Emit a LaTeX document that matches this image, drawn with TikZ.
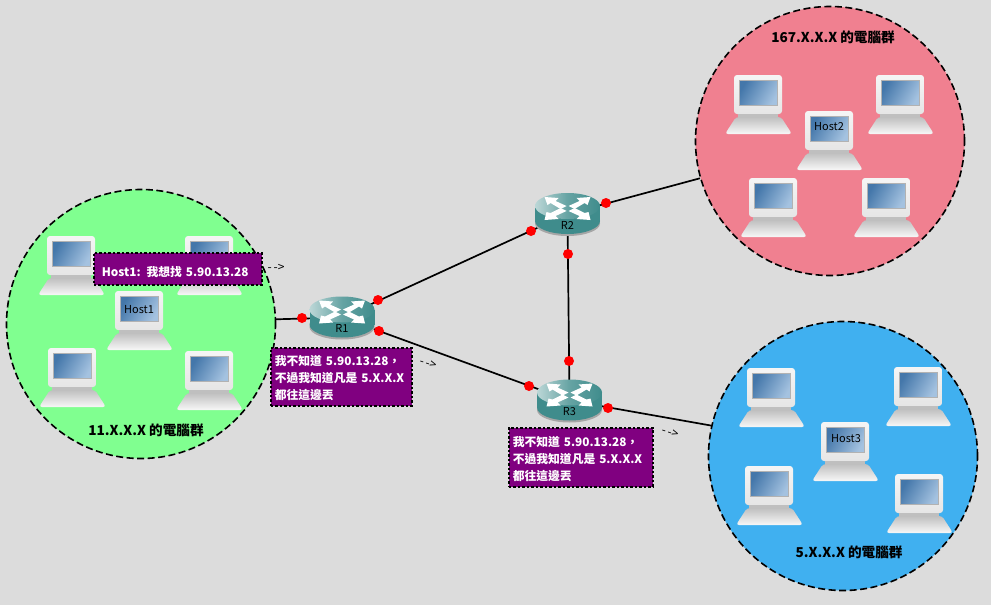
\documentclass[tikz,border=0pt]{standalone}
\usepackage{fontspec}
\setmainfont{Noto Sans CJK TC}
\definecolor{bgc}{HTML}{DCDCDC}
\definecolor{greenc}{HTML}{80FF90}
\definecolor{pinkc}{HTML}{F08090}
\definecolor{bluec}{HTML}{40B0F0}
\definecolor{notec}{HTML}{800080}
\definecolor{tealc}{HTML}{3F8C8C}
\definecolor{screenc}{HTML}{4477AA}
\definecolor{glarec}{HTML}{A4C2E0}
\tikzset{
  net/.style={circle, draw=black, line width=1.6pt, dash pattern=on 7pt off 3.5pt, minimum size=269pt, inner sep=0pt},
  link/.style={draw=black, line width=1.7pt},
  port/.style={circle, fill=red, minimum size=10pt, inner sep=0pt},
  note/.style={anchor=north west, draw=black, fill=notec, text=white, line width=1.5pt, dash pattern=on 2.5pt off 2pt, font=\fontsize{11.8}{17}\selectfont\bfseries, align=left, inner ysep=0pt, inner xsep=4pt, minimum height=#1pt},
  note/.default=32,
  netlab/.style={font=\fontsize{13.6}{15}\selectfont\bfseries},
  hostlab/.style={font=\fontsize{11}{12}\selectfont, inner sep=0pt},
  marklab/.style={font=\fontsize{12}{14}\selectfont, inner sep=0pt},
  pics/router/.style={code={
    \fill[black!35] (0,9.5) ellipse [x radius=32.5, y radius=12.5];
    \fill[tealc] (-32.5,-8) rectangle (32.5,7);
    \fill[tealc] (0,7) ellipse [x radius=32.5, y radius=13];
    \shade[left color=tealc!35!white, right color=tealc, middle color=tealc!80!white] (0,-8) ellipse [x radius=32.5, y radius=13];
    \foreach \sx in {-1,1} {
      \fill[white, xscale=\sx] (1,-8) -- (12,-13) -- (9,-16) -- (23,-17) -- (20,-9) -- (17,-11) -- (7,-5) -- cycle;
      \fill[white, xscale=\sx] (1,-3) -- (12,2) -- (9,5) -- (23,6) -- (21,-2) -- (17,-1) -- (7,-6) -- cycle;
    }
    \node[font=\fontsize{11}{12}\selectfont, inner sep=0pt] (-lab) at (0,11) {#1};
  }},
  pics/host/.style={code={
    % monitor, origin at its top left corner
    \shade[top color=black!4, bottom color=black!10, rounded corners=3pt] (0,0) rectangle (48,39);
    \shade[draw=black!30, left color=screenc, middle color=screenc, right color=glarec, shading angle=60] (5,5.5) rectangle (43.5,30.5);
    \fill[black!25] (4,39) rectangle (44,42);
    \shade[top color=black!25, bottom color=black!3, rounded corners=3pt] (2,42) -- (47,42) -- (58,59) -- (-9,59) -- cycle;
  }}
}
\begin{document}
\begin{tikzpicture}[x=1pt, y=-1pt]
  \fill[bgc] (0,0) rectangle (991,605);
  \useasboundingbox (0,0) rectangle (991,605);

  % the three groups
  \node[net, fill=greenc] (net1) at (141,324) {};
  \node[net, fill=pinkc] (net2) at (830,141) {};
  \node[net, fill=bluec] (net3) at (843,456) {};
  \node[netlab] (net1lab) at (146,430) {11.X.X.X 的電腦群};
  \node[netlab] (net2lab) at (833,37) {167.X.X.X 的電腦群};
  \node[netlab] (net3lab) at (849,552) {5.X.X.X 的電腦群};

  % links
  \coordinate (r1) at (342,317.5);
  \coordinate (r2) at (567.5,214);
  \coordinate (r3) at (569.5,400.5);
  \draw[link] (net1.2) -- (r1);
  \draw[link] (r1) -- (r2);
  \draw[link] (r1) -- (r3);
  \draw[link] (r2) -- (r3);
  \draw[link] (r2) -- (net2.196);
  \draw[link] (r3) -- (net3.167);

  % hosts
  \foreach \hx/\hy in {47/236,185/236,115/291,48/348,185/351} { \pic at (\hx,\hy) {host}; }
  \foreach \hx/\hy in {734/75,876/75,805/111,749/178,862/178} { \pic at (\hx,\hy) {host}; }
  \foreach \hx/\hy in {747/368,894/367,821/422,745/466,895/474} { \pic at (\hx,\hy) {host}; }
  \node[hostlab] (host1) at (139,310) {Host1};
  \node[hostlab] (host2) at (829,127) {Host2};
  \node[hostlab] (host3) at (846,439) {Host3};

  % routers
  \pic (rt1) at (r1) {router={R1}};
  \pic (rt2) at (r2) {router={R2}};
  \pic (rt3) at (r3) {router={R3}};

  % ports
  \foreach \px/\py in {302/318,378/300,379/331,531/231,606/203,568/254,569/361,529/386,608/408} {
    \node[port] at (\px,\py) {};
  }

  % notes
  \node[note, text width=160pt] (note1) at (93,252) {\rule{0pt}{16pt}\hspace{4pt}Host1: 我想找 5.90.13.28};
  \node[note=58, text width=133pt] (note2) at (270,347) {\rule{0pt}{13pt}我不知道 5.90.13.28，\\不過我知道凡是 5.X.X.X\\都往這邊丟};
  \node[note=59, text width=136pt] (note3) at (508,427) {\rule{0pt}{13pt}我不知道 5.90.13.28，\\不過我知道凡是 5.X.X.X\\都往這邊丟};
  \node[marklab] (mark1) at (276,268) {-\,->};
  \node[marklab, rotate=-18] (mark2) at (428,364) {-\,->};
  \node[marklab, rotate=-18] (mark3) at (670,433) {-\,->};
\end{tikzpicture}
\end{document}
